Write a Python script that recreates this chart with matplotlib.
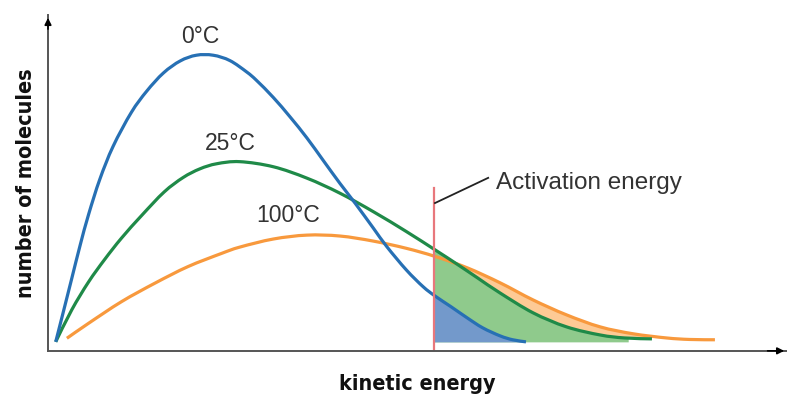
import numpy as np
import matplotlib
matplotlib.use("Agg")
import matplotlib.pyplot as plt
from matplotlib.path import Path
from matplotlib.patches import PathPatch

# energy / count values (arbitrary units)
x_0c = [0.11, 0.22, 0.34, 0.46, 0.58, 0.74, 0.93, 1.19, 1.41, 1.65, 1.89, 2.12, 2.36, 2.60, 2.84, 2.98, 3.22, 3.46,
        3.70, 3.93, 4.17, 4.39, 4.65, 4.84, 5.12, 5.36, 5.53, 5.76, 5.99, 6.21, 6.46, 6.64, 6.83]
y_0c = [0.30, 1.31, 2.42, 3.53, 4.55, 5.72, 6.82, 7.95, 8.66, 9.27, 9.67, 9.86, 9.86, 9.68, 9.30, 9.02, 8.45, 7.80,
        7.10, 6.36, 5.59, 4.92, 4.09, 3.48, 2.70, 2.14, 1.83, 1.47, 1.10, 0.77, 0.50, 0.37, 0.30]

x_25c = [0.11, 0.34, 0.58, 0.81, 1.05, 1.34, 1.66, 1.93, 2.17, 2.41, 2.74, 3.22, 3.70, 4.17, 4.65, 5.12, 5.53, 5.84,
         6.14, 6.46, 6.93, 7.41, 7.89, 8.24, 8.63]
y_25c = [0.30, 1.37, 2.30, 3.05, 3.76, 4.52, 5.30, 5.78, 6.07, 6.24, 6.31, 6.14, 5.76, 5.26, 4.64, 3.98, 3.37, 2.90,
         2.43, 1.93, 1.27, 0.80, 0.53, 0.43, 0.40]

x_100c = [0.27, 0.58, 1.05, 1.53, 2.00, 2.48, 2.74, 3.22, 3.70, 4.17, 4.65, 5.12, 5.53, 5.99, 6.46, 6.93, 7.41, 7.89,
          8.36, 8.84, 9.17, 9.53]
y_100c = [0.42, 0.92, 1.64, 2.26, 2.81, 3.25, 3.46, 3.73, 3.86, 3.83, 3.66, 3.42, 3.15, 2.77, 2.27, 1.70, 1.20, 0.80,
          0.57, 0.43, 0.38, 0.37]

labels = ["0°C", "25°C", "100°C"]
label_pos = [(2.17, 10.5), (2.60, 6.93), (3.43, 4.53)]
activation_energy = 5.51
baseline = 0.30

blue = "#2770b4"
green = "#1f8a48"
orange = "#f8993d"


def smooth_path(xs, ys):
    # catmull-rom through the points, drawn as cubic bezier segments
    p = np.column_stack([xs, ys])
    verts = [p[0]]
    codes = [Path.MOVETO]
    n = len(p)
    for i in range(n - 1):
        p0 = p[i - 1] if i > 0 else p[i]
        p1, p2 = p[i], p[i + 1]
        p3 = p[i + 2] if i + 2 < n else p[i + 1]
        verts += [p1 + (p2 - p0) / 6, p2 - (p3 - p1) / 6, p2]
        codes += [Path.CURVE4] * 3
    return Path(verts, codes)


fig = plt.figure(figsize=(7.87, 3.96), dpi=100)
ax = fig.add_axes([0.061, 0.114, 0.939, 0.848])
ax.set_xlim(0, 10.56)
ax.set_ylim(0, 11.2)

# shaded tails beyond the activation energy
xx = np.linspace(activation_energy, max(x_100c), 400)
g = np.interp(xx, x_25c, y_25c, right=baseline)
o = np.interp(xx, x_100c, y_100c, right=baseline)
b = np.interp(xx, x_0c, y_0c, right=baseline)
ax.fill_between(xx, np.maximum(g, baseline), o, where=(o > g) & (xx <= max(x_25c)),
                color="#fdca95", lw=0, interpolate=True)
ax.fill_between(xx, baseline, g, where=xx <= 8.3, color="#8fca8c", lw=0)
ax.fill_between(xx, baseline, b, where=xx <= 6.83, color="#7399cb", lw=0)

for xs, ys, c in [(x_100c, y_100c, orange), (x_25c, y_25c, green), (x_0c, y_0c, blue)]:
    ax.add_patch(PathPatch(smooth_path(xs, ys), fill=False, edgecolor=c, lw=2.3, capstyle="butt"))

ax.plot([activation_energy, activation_energy], [0, 5.43], color="#e8777c", lw=1.6)
ax.plot([activation_energy + 0.02, 6.29], [4.93, 5.77], color="#222222", lw=1.3)
ax.text(6.4, 5.6, "Activation energy", fontsize=17.5, color="#333333",
        family="Liberation Sans", va="center", ha="left")

for lab, (lx, ly) in zip(labels, label_pos):
    ax.text(lx, ly, lab, fontsize=16.5, color="#333333", family="Liberation Sans",
            ha="center", va="center")

for s in ["top", "right"]:
    ax.spines[s].set_visible(False)
for s in ["left", "bottom"]:
    ax.spines[s].set_color("#555555")
    ax.spines[s].set_linewidth(1.4)
ax.set_xticks([])
ax.set_yticks([])

ax.annotate("", xy=(0, 1.0), xytext=(0, 0.95), xycoords="axes fraction",
            arrowprops=dict(arrowstyle="-|>", color="black", lw=1.2, mutation_scale=10))
ax.annotate("", xy=(1.0, 0), xytext=(0.97, 0), xycoords="axes fraction",
            arrowprops=dict(arrowstyle="-|>", color="black", lw=1.2, mutation_scale=10))

ax.set_xlabel("kinetic energy", fontsize=15.5, fontweight="bold", family="DejaVu Sans",
              fontstretch="condensed", color="#111111", labelpad=17)
ax.set_ylabel("number of molecules", fontsize=15.5, fontweight="bold", family="DejaVu Sans",
              fontstretch="condensed", color="#111111", labelpad=9)

fig.savefig("out.png", dpi=100)
